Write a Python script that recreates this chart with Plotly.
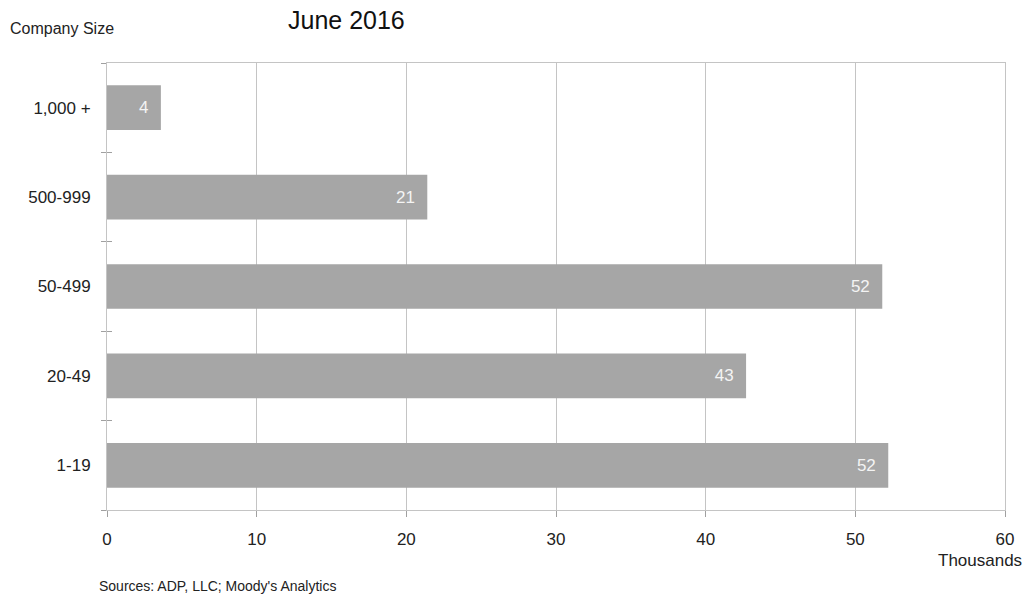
import plotly.graph_objects as go

categories = ["1-19", "20-49", "50-499", "500-999", "1,000 +"]
values = [52.2, 42.7, 51.8, 21.4, 3.6]
x_ticks = [0, 10, 20, 30, 40, 50, 60]

FONT = "Liberation Sans, Arial, sans-serif"
GRID = "#c4c4c4"
BAR = "#a6a6a6"
TICK = "#a0a0a0"

fig = go.Figure()
fig.add_trace(
    go.Bar(
        x=values,
        y=categories,
        orientation="h",
        marker=dict(color=BAR, line=dict(width=0)),
        texttemplate="%{x:.0f}\u00a0\u00a0",
        textposition="inside",
        insidetextanchor="end",
        textfont=dict(family=FONT, size=17, color="#f4f4f4"),
        hoverinfo="skip",
    )
)
# invisible companion trace so the inside half of the crossing y ticks is drawn
fig.add_trace(
    go.Scatter(
        x=values, y=categories, xaxis="x", yaxis="y2", mode="markers",
        marker=dict(opacity=0), hoverinfo="skip", showlegend=False,
    )
)

fig.update_layout(
    width=1032,
    height=595,
    margin=dict(l=107, r=27, t=63, b=85),
    paper_bgcolor="white",
    plot_bgcolor="white",
    bargap=0.5,
    showlegend=False,
    font=dict(family=FONT, color="#222222"),
    title=dict(
        text="June 2016",
        x=288 / 1032,
        xanchor="left",
        xref="container",
        y=1 - 20 / 595,
        yanchor="middle",
        yref="container",
        font=dict(family=FONT, size=25, color="#111111"),
    ),
    yaxis2=dict(
        type="category",
        categoryorder="array",
        categoryarray=categories,
        overlaying="y",
        anchor="x",
        side="left",
        matches="y",
        showgrid=False,
        zeroline=False,
        showline=False,
        ticks="inside",
        tickson="boundaries",
        ticklen=5,
        tickcolor=TICK,
        showticklabels=False,
        fixedrange=True,
    ),
)

fig.update_xaxes(
    range=[0, 60],
    tickvals=x_ticks,
    showgrid=True,
    gridcolor=GRID,
    gridwidth=1,
    zeroline=False,
    showline=True,
    linecolor=GRID,
    linewidth=1,
    mirror=True,
    ticks="outside",
    ticklen=6,
    tickcolor=TICK,
    tickfont=dict(family=FONT, size=17, color="#222222"),
    ticklabelstandoff=8,
    fixedrange=True,
)

fig.update_layout(
    yaxis=dict(
        type="category",
        categoryorder="array",
        categoryarray=categories,
        showgrid=False,
        zeroline=False,
        showline=True,
        linecolor=GRID,
        linewidth=1,
        mirror=True,
        ticks="outside",
        tickson="boundaries",
        ticklen=5,
        tickcolor=TICK,
        tickfont=dict(family=FONT, size=17, color="#222222"),
        ticklabelstandoff=12,
        fixedrange=True,
    )
)

fig.add_annotation(
    text="Company Size", xref="paper", yref="paper",
    x=(8 - 107) / 898, y=(510 - 29) / 447,
    xanchor="left", yanchor="middle", showarrow=False,
    font=dict(family=FONT, size=16, color="#222222"),
)
fig.add_annotation(
    text="Thousands", xref="paper", yref="paper",
    x=(980 - 107) / 898, y=(510 - 560) / 447,
    xanchor="center", yanchor="middle", showarrow=False,
    font=dict(family=FONT, size=17, color="#222222"),
)
fig.add_annotation(
    text="Sources: ADP, LLC; Moody's Analytics", xref="paper", yref="paper",
    x=(97 - 107) / 898, y=(510 - 586) / 447,
    xanchor="left", yanchor="middle", showarrow=False,
    font=dict(family=FONT, size=14, color="#222222"),
)

fig.write_html(
    "out.html",
    config={"displayModeBar": False},
    post_script="document.body.style.margin='0';",
)
